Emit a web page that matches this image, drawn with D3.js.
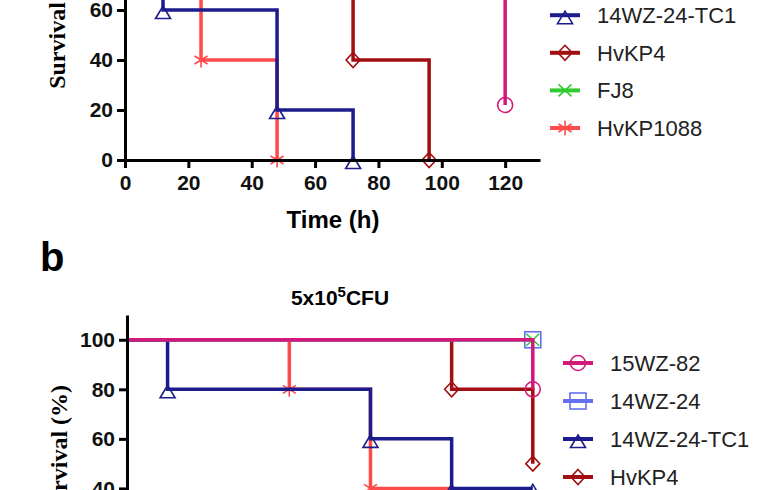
<!DOCTYPE html>
<html>
<head>
<meta charset="utf-8">
<script src="https://cdn.jsdelivr.net/npm/d3@7"></script>
<style>
  body { margin: 0; background: #fff; }
  svg { display: block; }
  .tick text { font-family: Arial, "Liberation Sans", sans-serif; font-weight: bold; font-size: 21px; fill: #111; }
</style>
</head>
<body>
<svg id="chart" width="760" height="490"></svg>
<script>
// strains (legend order)
const strains = ["15WZ-82", "14WZ-24", "14WZ-24-TC1", "HvKP4", "FJ8", "HvKP1088"];

// panel a : time points (h) and survival (%) for each strain
const timesA = [
    [0, 120],
    [0, 120],
    [0, 12, 48, 72],
    [0, 72, 96],
    [0, 120],
    [0, 24, 48]
];
const survivalA = [
    [100, 22],
    [100, 100],
    [100, 60, 20, 0],
    [100, 40, 0],
    [100, 100],
    [100, 40, 0]
];

// panel b : 5x10^5 CFU
const timesB = [
    [0, 120],
    [0, 120],
    [0, 12, 72, 96, 120],
    [0, 96, 120],
    [0, 120],
    [0, 48, 72, 96]
];
const survivalB = [
    [100, 80],
    [100, 100],
    [100, 80, 60, 40, 40],
    [100, 80, 50],
    [100, 100],
    [100, 80, 40, 20]
];

const xTicks = [0, 20, 40, 60, 80, 100, 120];
const yTicks = [0, 20, 40, 60, 80, 100];

const colors = ["#d3187a", "#6670ee", "#1c1c8c", "#a10f12", "#2fcb2f", "#ff4a4a"];
const symbols = ["circle", "square", "triangle", "diamond", "cross", "star"];

const svg = d3.select("#chart");
svg.append("rect").attr("width", 760).attr("height", 490).attr("fill", "#fff");

function drawSymbol(g, type, color) {
    var s;
    if (type === "circle") {
        s = g.append("circle").attr("r", 7.5);
    } else if (type === "square") {
        s = g.append("rect").attr("x", -8).attr("y", -8).attr("width", 16).attr("height", 16);
    } else if (type === "triangle") {
        s = g.append("path").attr("d", "M0,-4L7.5,8.5L-7.5,8.5Z");
    } else if (type === "diamond") {
        s = g.append("path").attr("d", "M0,-7.5L7,0L0,7.5L-7,0Z");
    } else if (type === "cross") {
        s = g.append("path").attr("d", "M-6.5,-6L6.5,6M-6.5,6L6.5,-6");
    } else {
        s = g.append("path").attr("d", "M0,-7.5V7.5M-6.5,-4L6.5,4M-6.5,4L6.5,-4");
    }
    s.attr("fill", "none").attr("stroke", color).attr("stroke-width", 1.6);
}

function drawPanel(p) {
    var x = d3.scaleLinear().domain([0, 131]).range(p.xRange);
    var y = d3.scaleLinear().domain([0, 110]).range(p.yRange);

    var g = svg.append("g");

    // survival steps, last strain first so 15WZ-82 sits on top
    var line = d3.line()
        .x(function (d) { return x(d[0]); })
        .y(function (d) { return y(d[1]); })
        .curve(d3.curveStepAfter);

    for (var i = strains.length - 1; i >= 0; i--) {
        var pts = p.times[i].map(function (t, k) { return [t, p.surv[i][k]]; });
        g.append("path")
            .datum(pts)
            .attr("fill", "none")
            .attr("stroke", colors[i])
            .attr("stroke-width", 3.5)
            .attr("d", line);
        pts.slice(1).forEach(function (d) {
            var m = g.append("g").attr("transform", "translate(" + x(d[0]) + "," + y(d[1]) + ")");
            drawSymbol(m, symbols[i], colors[i]);
        });
    }

    // axes
    var xAxis = g.append("g")
        .attr("transform", "translate(0," + y(0) + ")")
        .call(d3.axisBottom(x).tickValues(xTicks).tickSize(8).tickSizeOuter(0).tickPadding(7));
    var yAxis = g.append("g")
        .attr("transform", "translate(" + x(0) + ",0)")
        .call(d3.axisLeft(y).tickValues(yTicks).tickSize(8).tickSizeOuter(0).tickPadding(4));
    [xAxis, yAxis].forEach(function (a) {
        a.select(".domain").attr("stroke", "#000").attr("stroke-width", 3);
        a.selectAll(".tick line").attr("stroke", "#000").attr("stroke-width", 3);
    });

    g.append("text")
        .attr("transform", "translate(" + (x(0) - 60) + "," + y(55) + ") rotate(-90)")
        .attr("text-anchor", "middle")
        .style("font-family", "'Times New Roman', 'Liberation Serif', serif")
        .style("font-weight", "bold")
        .style("font-size", "24px")
        .text("Survival (%)");

    // legend
    strains.forEach(function (s, i) {
        var ly = p.legendY + i * p.legendStep;
        g.append("line")
            .attr("x1", p.legendX).attr("x2", p.legendX + 30)
            .attr("y1", ly).attr("y2", ly)
            .attr("stroke", colors[i]).attr("stroke-width", 4);
        var m = g.append("g").attr("transform", "translate(" + (p.legendX + 15) + "," + ly + ")");
        drawSymbol(m, symbols[i], colors[i]);
        g.append("text")
            .attr("x", p.legendX + 47)
            .attr("y", ly)
            .attr("dy", "0.35em")
            .style("font-family", "Arial, 'Liberation Sans', sans-serif")
            .style("font-size", "22px")
            .attr("fill", "#222")
            .text(s);
    });

    return { x: x, y: y };
}

var a = drawPanel({
    times: timesA, surv: survivalA,
    xRange: [125, 540], yRange: [160, -115],
    legendX: 550, legendY: -60, legendStep: 37.6
});

svg.append("text")
    .attr("x", 333).attr("y", 228)
    .attr("text-anchor", "middle")
    .style("font-family", "Arial, 'Liberation Sans', sans-serif")
    .style("font-weight", "bold")
    .style("font-size", "24px")
    .text("Time (h)");

svg.append("text")
    .attr("x", 40).attr("y", 271)
    .style("font-family", "Arial, 'Liberation Sans', sans-serif")
    .style("font-weight", "bold")
    .style("font-size", "40px")
    .text("b");

var title = svg.append("text")
    .attr("x", 340).attr("y", 305)
    .attr("text-anchor", "middle")
    .style("font-family", "Arial, 'Liberation Sans', sans-serif")
    .style("font-weight", "bold")
    .style("font-size", "21px");
title.append("tspan").text("5x10");
title.append("tspan").attr("dy", -8).style("font-size", "15px").text("5");
title.append("tspan").attr("dy", 8).text("CFU");

var b = drawPanel({
    times: timesB, surv: survivalB,
    xRange: [127, 570], yRange: [587.5, 315],
    legendX: 563, legendY: 363, legendStep: 38
});
</script>
</body>
</html>
